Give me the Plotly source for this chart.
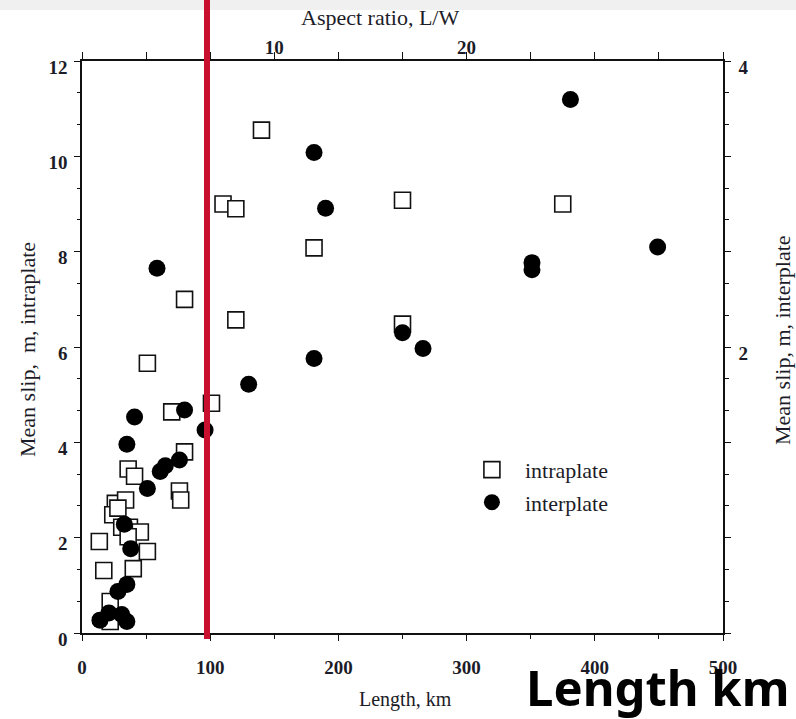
import plotly.graph_objects as go

# ---- data ----
intra_len_km = [140, 110, 120, 250, 375, 181, 80, 120, 250, 51, 70, 101, 80, 76, 77,
                36, 41, 26, 34, 24, 28, 31, 37, 45.5, 13.5, 36, 51, 17, 40, 22, 22]
intra_slip_m = [10.55, 9.0, 8.9, 9.08, 9.0, 8.08, 7.0, 6.57, 6.48, 5.66, 4.64, 4.82, 3.80, 2.98, 2.79,
                3.44, 3.29, 2.72, 2.79, 2.48, 2.62, 2.22, 2.22, 2.12, 1.92, 2.02, 1.71, 1.31, 1.35, 0.66, 0.24]

inter_len_km = [381, 181, 190, 58.5, 351, 351, 449, 250, 266, 181, 130, 80, 41, 96, 35,
                76, 65, 61, 51, 33, 38, 35, 28, 14, 21, 31, 35]
inter_slip_m = [3.73, 3.36, 2.97, 2.55, 2.59, 2.54, 2.70, 2.10, 1.99, 1.92, 1.74, 1.56, 1.51, 1.42, 1.32,
                1.21, 1.17, 1.13, 1.01, 0.76, 0.59, 0.34, 0.29, 0.09, 0.14, 0.13, 0.08]

length_ticks = [0, 100, 200, 300, 400, 500]
left_ticks = [0, 2, 4, 6, 8, 10, 12]
right_ticks = [0, 2/3, 4/3, 2, 8/3, 10/3, 4]
right_ticktext = ["", "", "", "2", "", "", "4"]
aspect_ticks = [10, 20]
fault_width_km = 15
red_line_km = 97.5

SERIF = "Liberation Serif"
TXT = "#1c1c28"

fig = go.Figure()
fig.add_trace(go.Scatter(
    x=intra_len_km, y=intra_slip_m, mode="markers", name="intraplate",
    legendgroup="a",
    marker=dict(symbol="square", size=16, color="white", line=dict(color="#111", width=1.6)),
    xaxis="x", yaxis="y"))
# same intraplate data expressed as aspect ratio, invisible, so that the top axis is drawn
fig.add_trace(go.Scatter(
    x=[v / fault_width_km for v in intra_len_km], y=intra_slip_m, mode="markers",
    marker=dict(opacity=0), showlegend=False, hoverinfo="skip",
    xaxis="x2", yaxis="y"))
fig.add_trace(go.Scatter(
    x=inter_len_km, y=inter_slip_m, mode="markers", name="interplate",
    legendgroup="b",
    marker=dict(symbol="circle", size=17, color="black", line=dict(width=0)),
    xaxis="x", yaxis="y2"))

axis_common = dict(showline=True, linecolor="#111", linewidth=1.5, showgrid=False,
                   zeroline=False, ticks="outside", tickcolor="#111", tickwidth=1.3,
                   tickfont=dict(family=SERIF, size=19, color=TXT, weight="bold"))

fig.update_layout(
    width=796, height=719, autosize=False,
    margin=dict(l=82, r=73, t=61, b=86),
    paper_bgcolor="white", plot_bgcolor="white",
    showlegend=True,
    legend=dict(x=0.588, y=0.322, xanchor="left", yanchor="top", bgcolor="rgba(0,0,0,0)",
                font=dict(family=SERIF, size=22, color=TXT), traceorder="grouped",
                tracegroupgap=1, itemwidth=56),
    xaxis=dict(range=[0, 500], tickvals=length_ticks, ticklen=6, ticklabelstandoff=10,
               minor=dict(dtick=50, tick0=0, ticklen=4, ticks="outside", tickcolor="#111"),
               anchor="y", **axis_common),
    xaxis2=dict(range=[0, 500 / fault_width_km], overlaying="x", side="top", anchor="y",
                tickvals=aspect_ticks, ticklen=7, ticklabelstandoff=-9,
                minor=dict(dtick=10 / 3, tick0=0, ticklen=7, ticks="outside", tickcolor="#111"),
                **axis_common),
    yaxis=dict(range=[0, 12], tickvals=left_ticks, ticklen=6, ticklabelstandoff=3,
               ticklabelshift=6,
               minor=dict(dtick=2 / 3, tick0=0, ticklen=3, ticks="outside", tickcolor="#111"),
               anchor="x", **axis_common),
    yaxis2=dict(range=[0, 4], overlaying="y", side="right", anchor="x",
                tickvals=right_ticks, ticktext=right_ticktext, ticklen=6, ticklabelstandoff=4,
                ticklabelshift=6,
                minor=dict(dtick=2 / 9, tick0=0, ticklen=4, ticks="outside", tickcolor="#111"),
                **axis_common),
)

def px(x):
    return (x - 82) / 641.0

def py(y):
    return (633 - y) / 572.0

# light grey band at the very top of the image
fig.add_shape(type="rect", xref="paper", yref="paper", x0=px(0), x1=px(796), y0=py(10), y1=py(0),
              fillcolor="#f0f0f0", line=dict(width=0), layer="below")
# red vertical marker line
fig.add_shape(type="line", xref="x", yref="paper", x0=red_line_km, x1=red_line_km,
              y0=py(639), y1=py(0), line=dict(color="#c8102e", width=6), layer="above")

ann_font = dict(family=SERIF, size=22, color=TXT)
fig.add_annotation(text="Aspect ratio, L/W", xref="paper", yref="paper", x=px(380), y=py(18),
                   showarrow=False, font=ann_font, xanchor="center", yanchor="middle")
fig.add_annotation(text="Length, km", xref="paper", yref="paper", x=px(405), y=py(699),
                   showarrow=False, font=dict(family=SERIF, size=20, color=TXT),
                   xanchor="center", yanchor="middle")
fig.add_annotation(text="Mean slip,  m, intraplate", xref="paper", yref="paper", x=px(27), y=py(350),
                   showarrow=False, font=ann_font, textangle=-90, xanchor="center", yanchor="middle")
fig.add_annotation(text="Mean slip, m, interplate", xref="paper", yref="paper", x=px(782), y=py(340),
                   showarrow=False, font=ann_font, textangle=-90, xanchor="center", yanchor="middle")
fig.add_annotation(text="<b>Length km</b>", xref="paper", yref="paper", x=px(657), y=py(687),
                   showarrow=False, font=dict(family="Noto Sans", size=49, color="black"),
                   xanchor="center", yanchor="middle")

fig.write_html("out.html", config={"displayModeBar": False},
               post_script="document.body.style.margin='0';document.body.style.overflow='hidden';")
